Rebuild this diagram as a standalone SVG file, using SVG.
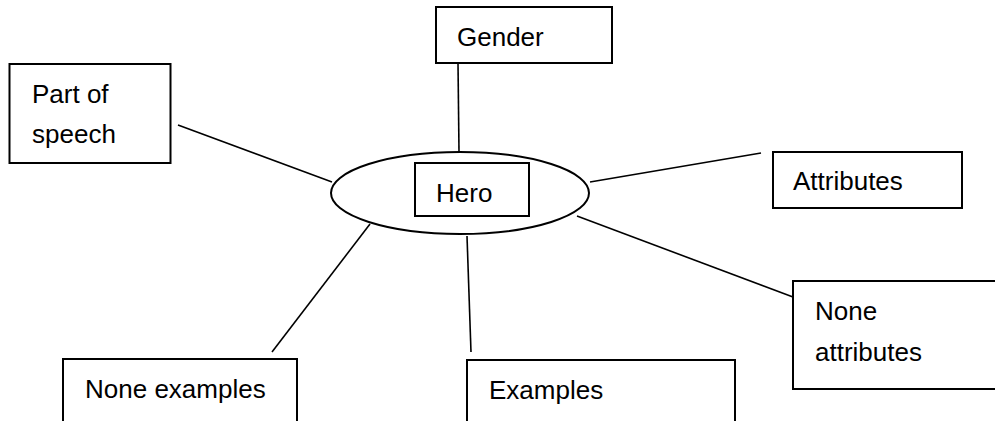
<svg xmlns="http://www.w3.org/2000/svg" width="995" height="421" viewBox="0 0 995 421">
<style>
.box{fill:#fff;stroke:#000;stroke-width:2}
.ln{stroke:#000;stroke-width:1.6;fill:none}
text{font-family:"Liberation Sans",Arial,sans-serif;font-size:26px;fill:#000}
</style>
<rect width="995" height="421" fill="#fff"/>
<g id="connectors">
<line class="ln" x1="178" y1="125" x2="332" y2="182"/>
<line class="ln" x1="458" y1="63" x2="459" y2="152"/>
<line class="ln" x1="590" y1="182" x2="761" y2="153"/>
<line class="ln" x1="577" y1="216" x2="793" y2="297"/>
<line class="ln" x1="467" y1="236" x2="471" y2="352"/>
<line class="ln" x1="370" y1="224" x2="272" y2="352"/>
</g>
<g id="hero">
<ellipse class="box" cx="460" cy="193" rx="129" ry="41"/>
<rect class="box" x="415" y="163" width="114" height="53"/>
<text x="436" y="202">Hero</text>
</g>
<g id="gender">
<rect class="box" x="436" y="7" width="176" height="56"/>
<text x="457" y="46">Gender</text>
</g>
<g id="part-of-speech">
<rect class="box" x="9.5" y="64" width="161" height="99"/>
<text x="32" y="103">Part of</text>
<text x="32" y="143">speech</text>
</g>
<g id="attributes">
<rect class="box" x="773" y="152" width="189" height="56"/>
<text x="793" y="190">Attributes</text>
</g>
<g id="none-attributes">
<rect class="box" x="793" y="281" width="210" height="108"/>
<text x="815" y="320">None</text>
<text x="815" y="361">attributes</text>
</g>
<g id="none-examples">
<rect class="box" x="63" y="359" width="234" height="80"/>
<text x="85" y="398">None examples</text>
</g>
<g id="examples">
<rect class="box" x="467" y="360" width="268" height="80"/>
<text x="489" y="399">Examples</text>
</g>
</svg>
